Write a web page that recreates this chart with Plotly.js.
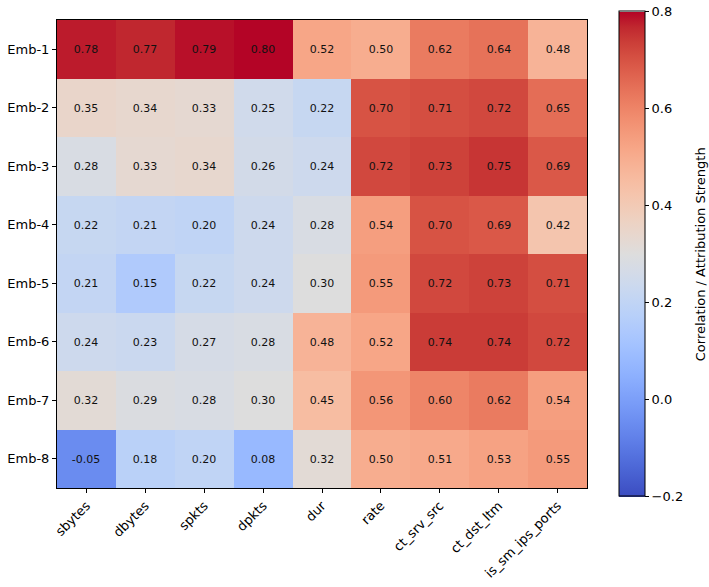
<!DOCTYPE html>
<html>
<head>
<meta charset="utf-8">
<script src="https://cdn.plot.ly/plotly-3.0.1.min.js"></script>
<style>html,body{margin:0;padding:0;background:#fff;}#chart{width:709px;height:587px;}</style>
</head>
<body>
<div id="chart"></div>
<script>
const features = ["sbytes","dbytes","spkts","dpkts","dur","rate","ct_srv_src","ct_dst_ltm","is_sm_ips_ports"];
const embeddings = ["Emb-1","Emb-2","Emb-3","Emb-4","Emb-5","Emb-6","Emb-7","Emb-8"];
const emb1 = [0.78,0.77,0.79,0.80,0.52,0.50,0.62,0.64,0.48];
const emb2 = [0.35,0.34,0.33,0.25,0.22,0.70,0.71,0.72,0.65];
const emb3 = [0.28,0.33,0.34,0.26,0.24,0.72,0.73,0.75,0.69];
const emb4 = [0.22,0.21,0.20,0.24,0.28,0.54,0.70,0.69,0.42];
const emb5 = [0.21,0.15,0.22,0.24,0.30,0.55,0.72,0.73,0.71];
const emb6 = [0.24,0.23,0.27,0.28,0.48,0.52,0.74,0.74,0.72];
const emb7 = [0.32,0.29,0.28,0.30,0.45,0.56,0.60,0.62,0.54];
const emb8 = [-0.05,0.18,0.20,0.08,0.32,0.50,0.51,0.53,0.55];
const zValues = [emb1,emb2,emb3,emb4,emb5,emb6,emb7,emb8];
const cbTicks = [-0.2,0.0,0.2,0.4,0.6,0.8];
const cbTickText = ["\u22120.2","0.0","0.2","0.4","0.6","0.8"];
const cbTitle = "Correlation / Attribution Strength";

const coolwarm = [
[59,76,192],[68,90,204],[77,104,215],[87,117,225],[98,130,234],[108,142,241],[119,154,247],[130,165,251],
[141,176,254],[152,185,255],[163,194,255],[174,201,253],[184,208,249],[194,213,244],[204,217,238],[213,219,230],
[221,221,221],[229,216,209],[236,211,197],[241,204,184],[245,196,172],[247,187,160],[247,177,148],[247,166,135],
[244,154,123],[241,141,111],[236,127,99],[229,112,88],[222,96,77],[213,80,66],[203,62,56],[192,40,47],[180,4,38]];
const colorscale = coolwarm.map((c,i)=>[i/(coolwarm.length-1), `rgb(${c[0]},${c[1]},${c[2]})`]);

const textVals = zValues.map(r=>r.map(v=>v.toFixed(2)));

const trace = {
  type:'heatmap',
  x: features, y: embeddings, z: zValues,
  zmin:-0.2, zmax:0.8,
  colorscale: colorscale,
  text: textVals,
  texttemplate:'%{text}',
  textfont:{family:'DejaVu Sans', size:11, color:'#111'},
  xgap:0, ygap:0,
  colorbar:{
    x:1.0605, xanchor:'left', xref:'paper',
    y:0.5, yanchor:'middle', len:1.036, lenmode:'fraction',
    thickness:26, ypad:0, xpad:0,
    outlinewidth:1, outlinecolor:'#000',
    ticks:'outside', ticklen:4, tickwidth:1, tickcolor:'#000',
    tickvals: cbTicks, ticktext: cbTickText,
    tickfont:{family:'DejaVu Sans', size:13, color:'#000'}
  }
};

const layout = {
  width:709, height:587,
  margin:{l:57, r:122, t:17, b:99},
  paper_bgcolor:'#fff', plot_bgcolor:'#fff',
  font:{family:'DejaVu Sans', color:'#000'},
  xaxis:{
    showline:true, mirror:true, linecolor:'#000', linewidth:1,
    ticks:'outside', ticklen:4, tickcolor:'#000',
    tickangle:-45, tickfont:{size:13, family:'DejaVu Sans', color:'#000'},
    showgrid:false, zeroline:false
  },
  yaxis:{
    autorange:'reversed',
    showline:true, mirror:true, linecolor:'#000', linewidth:1,
    ticks:'outside', ticklen:4, tickcolor:'#000',
    tickfont:{size:13, family:'DejaVu Sans', color:'#000'},
    showgrid:false, zeroline:false
  },
  annotations:[{
    text: cbTitle, textangle:-90, showarrow:false,
    xref:'paper', yref:'paper', x:1.2136, y:0.5, xanchor:'center', yanchor:'middle',
    font:{family:'DejaVu Sans', size:13, color:'#000'}
  }]
};

Plotly.newPlot('chart',[trace],layout,{displayModeBar:false, staticPlot:true});
</script>
</body>
</html>
